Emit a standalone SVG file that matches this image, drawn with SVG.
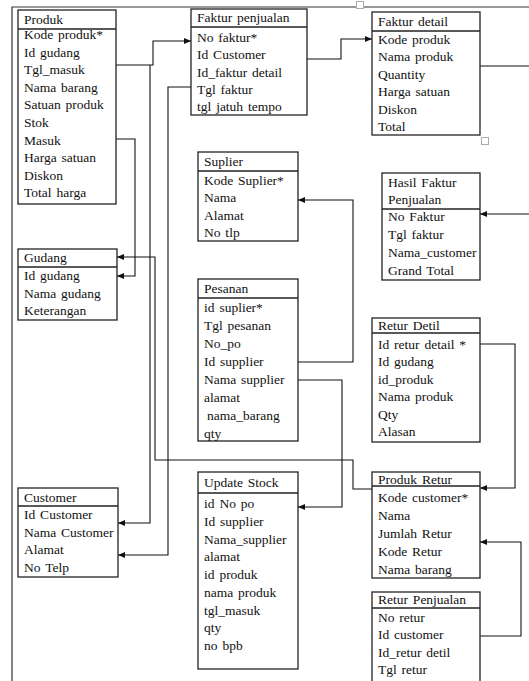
<svg xmlns="http://www.w3.org/2000/svg" width="529" height="681" viewBox="0 0 529 681">
<defs>
<marker id="ah" markerUnits="userSpaceOnUse" markerWidth="7" markerHeight="6" refX="7" refY="3" orient="auto">
<path d="M0,0 L7,3 L0,6 z" fill="#111"/>
</marker>
<style>
.box{fill:#fff;stroke:#222;stroke-width:1.3}
.div{stroke:#222;stroke-width:1.3}
text{font-family:"Liberation Serif","Times New Roman",serif;font-size:13.5px;fill:#111;word-spacing:1.5px}
.c{fill:none;stroke:#111;stroke-width:1.1}
.a{marker-end:url(#ah)}
.frame{fill:none;stroke:#333;stroke-width:1.2}
.hnd{fill:#fff;stroke:#aaa;stroke-width:1}
</style>
</defs>
<rect width="529" height="681" fill="#fff"/>
<path class="frame" d="M12,681 V7 H529"/>
<rect class="hnd" x="356.5" y="1.5" width="7" height="7"/>
<rect class="hnd" x="481.5" y="137.5" width="7" height="7"/>

<g id="connectors">
<path class="c a" d="M116,65 H153 V41 H191"/>
<path class="c a" d="M150,65 V523 H118"/>
<path class="c a" d="M191,87 H168 V555 H118"/>
<path class="c a" d="M116,139 H135 V276 H117"/>
<path class="c a" d="M372,489 H353 V460 H155 V257 H117"/>
<path class="c a" d="M307,59 H341 V39 H372"/>
<path class="c" d="M480,66 H529"/>
<path class="c a" d="M529,214 H480"/>
<path class="c a" d="M298,362 H353 V200 H298"/>
<path class="c a" d="M298,380 H342 V507 H298"/>
<path class="c a" d="M480,344 H515 V488 H480"/>
<path class="c a" d="M480,636 H521 V542 H480"/>
</g>

<g id="produk">
<rect class="box" x="18" y="10" width="98" height="194"/>
<line class="div" x1="18" y1="29" x2="116" y2="29"/>
<text x="24" y="24">Produk</text>
<text x="24" y="39">Kode produk*</text>
<text x="24" y="56.6">Id gudang</text>
<text x="24" y="74.2">Tgl_masuk</text>
<text x="24" y="91.8">Nama barang</text>
<text x="24" y="109.4">Satuan produk</text>
<text x="24" y="127">Stok</text>
<text x="24" y="144.6">Masuk</text>
<text x="24" y="162.2">Harga satuan</text>
<text x="24" y="179.8">Diskon</text>
<text x="24" y="197.4">Total harga</text>
</g>

<g id="faktur-penjualan">
<rect class="box" x="191" y="9" width="116" height="106"/>
<line class="div" x1="191" y1="27" x2="307" y2="27"/>
<text x="197" y="22">Faktur penjualan</text>
<text x="197" y="42">No faktur*</text>
<text x="197" y="59.3">Id Customer</text>
<text x="197" y="76.6">Id_faktur detail</text>
<text x="197" y="93.9">Tgl faktur</text>
<text x="197" y="111.2">tgl jatuh tempo</text>
</g>

<g id="faktur-detail">
<rect class="box" x="372" y="12" width="108" height="123"/>
<line class="div" x1="372" y1="31" x2="480" y2="31"/>
<text x="378" y="26">Faktur detail</text>
<text x="378" y="44">Kode produk</text>
<text x="378" y="61.4">Nama produk</text>
<text x="378" y="78.8">Quantity</text>
<text x="378" y="96.2">Harga satuan</text>
<text x="378" y="113.6">Diskon</text>
<text x="378" y="131">Total</text>
</g>

<g id="suplier">
<rect class="box" x="198" y="152" width="100" height="89"/>
<line class="div" x1="198" y1="171" x2="298" y2="171"/>
<text x="204" y="166">Suplier</text>
<text x="204" y="185">Kode Suplier*</text>
<text x="204" y="202.3">Nama</text>
<text x="204" y="219.6">Alamat</text>
<text x="204" y="236.9">No tlp</text>
</g>

<g id="hasil-faktur">
<rect class="box" x="382" y="173" width="98" height="107"/>
<line class="div" x1="382" y1="209" x2="480" y2="209"/>
<text x="388" y="187">Hasil Faktur</text>
<text x="388" y="204">Penjualan</text>
<text x="388" y="221">No Faktur</text>
<text x="388" y="239">Tgl faktur</text>
<text x="388" y="257">Nama_customer</text>
<text x="388" y="275">Grand Total</text>
</g>

<g id="gudang">
<rect class="box" x="18" y="249" width="99" height="71"/>
<line class="div" x1="18" y1="267" x2="117" y2="267"/>
<text x="24" y="262">Gudang</text>
<text x="24" y="280">Id gudang</text>
<text x="24" y="297.5">Nama gudang</text>
<text x="24" y="315">Keterangan</text>
</g>

<g id="pesanan">
<rect class="box" x="198" y="279" width="100" height="162"/>
<line class="div" x1="198" y1="298" x2="298" y2="298"/>
<text x="204" y="293">Pesanan</text>
<text x="204" y="312">id suplier*</text>
<text x="204" y="330">Tgl pesanan</text>
<text x="204" y="348">No_po</text>
<text x="204" y="366">Id supplier</text>
<text x="204" y="384">Nama supplier</text>
<text x="204" y="402">alamat</text>
<text x="207" y="420">nama_barang</text>
<text x="204" y="438">qty</text>
</g>

<g id="retur-detil">
<rect class="box" x="372" y="318" width="108" height="124"/>
<line class="div" x1="372" y1="333" x2="480" y2="333"/>
<text x="378" y="330">Retur Detil</text>
<text x="378" y="349">Id retur detail *</text>
<text x="378" y="366.4">Id gudang</text>
<text x="378" y="383.8">id_produk</text>
<text x="378" y="401.2">Nama produk</text>
<text x="378" y="418.6">Qty</text>
<text x="378" y="436">Alasan</text>
</g>

<g id="customer">
<rect class="box" x="18" y="488" width="100" height="89"/>
<line class="div" x1="18" y1="506" x2="118" y2="506"/>
<text x="24" y="502">Customer</text>
<text x="24" y="519">Id Customer</text>
<text x="24" y="536.6">Nama Customer</text>
<text x="24" y="554.2">Alamat</text>
<text x="24" y="571.8">No Telp</text>
</g>

<g id="update-stock">
<rect class="box" x="198" y="472" width="100" height="197"/>
<line class="div" x1="198" y1="493" x2="298" y2="493"/>
<text x="204" y="487">Update Stock</text>
<text x="204" y="508">id No po</text>
<text x="204" y="525.75">Id supplier</text>
<text x="204" y="543.5">Nama_supplier</text>
<text x="204" y="561.25">alamat</text>
<text x="204" y="579">id produk</text>
<text x="204" y="596.75">nama produk</text>
<text x="204" y="614.5">tgl_masuk</text>
<text x="204" y="632.25">qty</text>
<text x="204" y="650">no bpb</text>
</g>

<g id="produk-retur">
<rect class="box" x="372" y="472" width="108" height="106"/>
<line class="div" x1="372" y1="486" x2="480" y2="486"/>
<text x="378" y="484">Produk Retur</text>
<text x="378" y="502">Kode customer*</text>
<text x="378" y="520">Nama</text>
<text x="378" y="538">Jumlah Retur</text>
<text x="378" y="556">Kode Retur</text>
<text x="378" y="574">Nama barang</text>
</g>

<g id="retur-penjualan">
<rect class="box" x="372" y="592" width="108" height="100"/>
<line class="div" x1="372" y1="608" x2="480" y2="608"/>
<text x="378" y="604">Retur Penjualan</text>
<text x="378" y="622">No retur</text>
<text x="378" y="639.3">Id customer</text>
<text x="378" y="656.6">Id_retur detil</text>
<text x="378" y="673.9">Tgl retur</text>
</g>
</svg>
